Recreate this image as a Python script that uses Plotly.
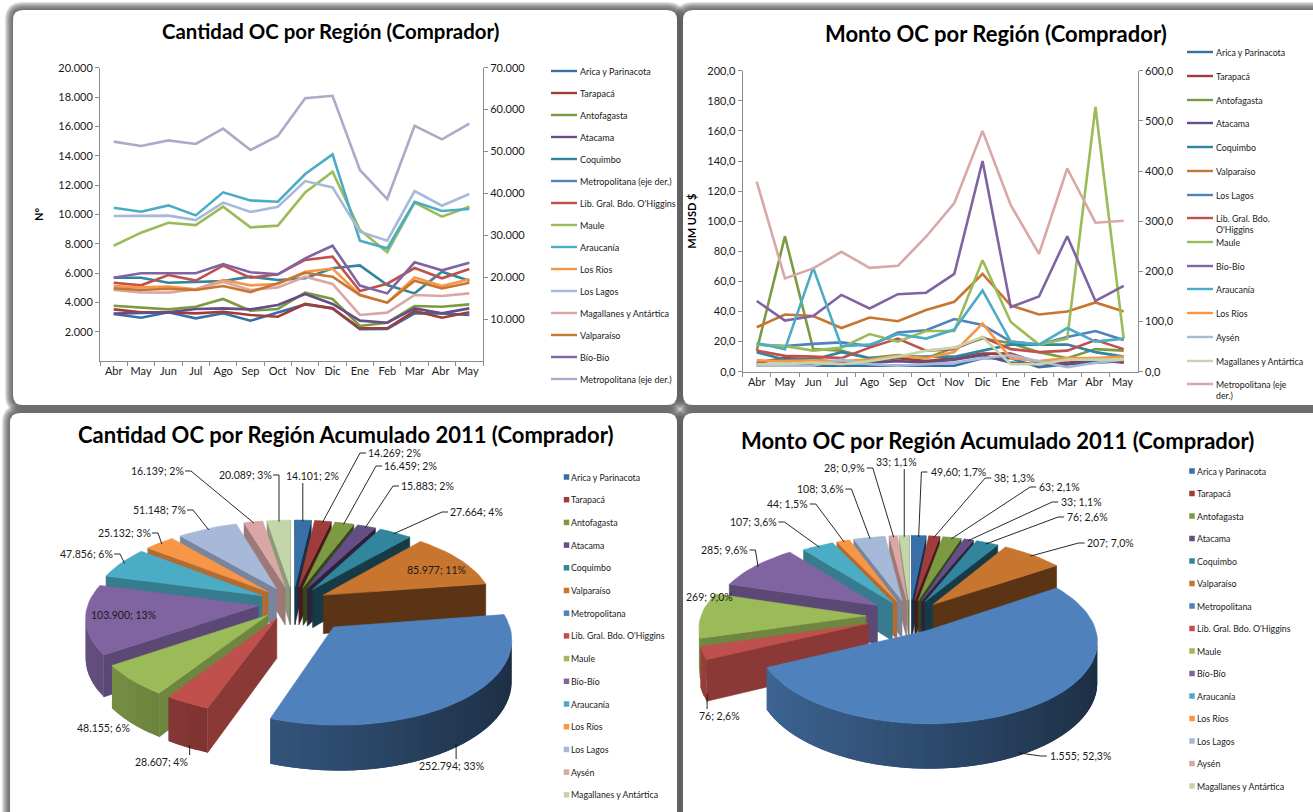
"""
Four-panel dashboard: purchase orders by region (lines on top, exploded 3D pies below).
Plotly has no 3D pie, so the pies are projected by hand from the values.
"""
import math
import plotly.graph_objects as go

W, H = 1313, 812
FONT = 'Lato, "Open Sans", sans-serif'
INK = '#1a1a1a'

# Trailing spaces keep the repeated months distinct on the category axis
months = ['Abr', 'May', 'Jun', 'Jul', 'Ago', 'Sep', 'Oct', 'Nov', 'Dic', 'Ene', 'Feb', 'Mar', 'Abr ', 'May ']

COLORS = {
    'Arica y Parinacota': '#376fa6', 'Tarapacá': '#a03d3a', 'Antofagasta': '#7c9a42', 'Atacama': '#654d85',
    'Coquimbo': '#31859c', 'Valparaíso': '#c8752f', 'Metropolitana': '#4f81bd', "Lib. Gral. Bdo. O'Higgins": '#c0504d',
    'Maule': '#9bbb59', 'Bío-Bío': '#8064a2', 'Araucanía': '#4bacc6', 'Los Ríos': '#f79646',
    'Los Lagos': '#a7b9d9', 'Aysén': '#d9a7a6', 'Magallanes y Antártica': '#c3d6a9',
}
METRO_LINE_L = '#b3a6c9'
METRO_LINE_R = '#d9a7a6'

# --- Cantidad OC (N°), left axis unless noted
q_arica = [3200, 2950, 3320, 2910, 3250, 2750, 3300, 3860, 3590, 2160, 2180, 3250, 3250, 3140]
q_tarapaca = [3520, 3320, 3320, 3250, 3360, 3140, 3020, 3890, 3590, 2230, 2230, 3410, 2950, 3320]
q_antofagasta = [3770, 3660, 3520, 3700, 4230, 3430, 3550, 4660, 4230, 2390, 2610, 3750, 3700, 3860]
q_atacama = [3230, 3250, 3320, 3550, 3590, 3520, 3820, 4570, 3890, 2750, 2610, 3590, 3250, 3590]
q_coquimbo = [5680, 5680, 5340, 5410, 5450, 5750, 5520, 5640, 6320, 6520, 5180, 4610, 6090, 5480]
q_ohiggins = [5340, 5160, 5860, 5480, 6500, 5680, 5910, 6890, 7110, 4770, 5270, 6340, 5640, 6270]
q_maule = [7860, 8750, 9430, 9270, 10520, 9110, 9230, 11500, 12910, 8930, 7410, 10800, 9840, 10520]
q_araucania = [10450, 10180, 10610, 9930, 11500, 10950, 10860, 12750, 14090, 8200, 7680, 10860, 10230, 10360]
q_rios = [5110, 5020, 5070, 4890, 5520, 5160, 5250, 6090, 6300, 4500, 3980, 5700, 5110, 5570]
q_lagos = [9890, 9910, 9910, 9610, 10800, 10160, 10520, 12270, 11840, 8820, 8200, 11590, 10590, 11390]
q_magallanes = [4840, 4680, 4660, 4890, 5390, 4840, 5020, 5750, 5250, 3140, 3300, 4500, 4430, 4610]
q_valparaiso = [4950, 4840, 4930, 4840, 5110, 4700, 5300, 6020, 5750, 4500, 3980, 5480, 4950, 5340]
q_biobio = [5680, 5980, 5980, 5980, 6610, 6050, 5910, 7000, 7860, 5140, 4610, 6730, 6180, 6700]
q_metro = [52350, 51300, 52650, 51800, 55450, 50350, 53700, 62700, 63300, 45600, 38650, 56150, 52900, 56650]

# --- Monto OC (MM USD $), left axis unless noted
m_arica = [4, 4, 4, 4, 4, 4, 4, 4, 9, 9, 3, 5, 6, 7]
m_tarapaca = [6, 9, 8, 6, 7, 9, 7, 9, 12, 12, 6, 6, 8, 6]
m_antofagasta = [14, 90, 15, 14, 9, 11, 9, 16, 22, 19, 13, 9, 15, 14]
m_atacama = [5, 5, 5, 7, 6, 7, 6, 8, 11, 6, 5, 5, 7, 7]
m_coquimbo = [13, 8, 8, 13, 9, 10, 10, 10, 14, 18, 18, 18, 13, 10]
m_valparaiso = [29.5, 38, 37, 29, 36, 33.5, 41, 46.5, 65, 44, 38, 40, 46, 40]
m_lagos = [18, 17, 18.5, 19.5, 17, 26, 27.5, 35, 31, 20, 18, 23, 27, 21]
m_ohiggins = [14, 10.5, 10, 9, 16, 22, 14, 15, 23, 15, 13, 14, 21, 15]
m_maule = [18, 17, 14, 16, 25, 20, 27, 27, 74, 33, 18, 22, 176, 22]
m_biobio = [47, 34, 37, 51, 42, 51.5, 52.5, 65, 140, 43, 50, 90, 47, 57]
m_araucania = [19, 15, 69, 17, 18, 25, 22, 28, 54, 20, 18, 29, 20, 22]
m_rios = [7.5, 7, 7.5, 7, 8, 10.5, 9, 13, 32, 9, 7, 9, 9, 10]
m_aysen = [4, 4, 4, 8, 5, 4, 5, 6, 9, 11, 7, 3, 6, 8]
m_magallanes = [5, 5, 6, 5, 7, 10, 14, 16, 23, 5, 5, 8, 8, 8]
m_metro = [379, 186, 206, 239, 207, 211, 269, 336, 480, 332, 235, 405, 297, 301]

# --- Accumulated 2011 pies
pie_regions = ['Arica y Parinacota', 'Tarapacá', 'Antofagasta', 'Atacama', 'Coquimbo', 'Valparaíso', 'Metropolitana',
               "Lib. Gral. Bdo. O'Higgins", 'Maule', 'Bío-Bío', 'Araucanía', 'Los Ríos', 'Los Lagos', 'Aysén',
               'Magallanes y Antártica']
pie_q_values = [14101, 14269, 16459, 15883, 27664, 85977, 252794, 28607, 48155, 103900, 47856, 25132, 51148, 16139, 20089]
pie_q_labels = ['14.101; 2%', '14.269; 2%', '16.459; 2%', '15.883; 2%', '27.664; 4%', '85.977; 11%', '252.794; 33%',
                '28.607; 4%', '48.155; 6%', '103.900; 13%', '47.856; 6%', '25.132; 3%', '51.148; 7%', '16.139; 2%',
                '20.089; 3%']
pie_m_values = [49.6, 38, 63, 33, 76, 207, 1555, 76, 269, 285, 107, 44, 108, 28, 33]
pie_m_labels = ['49,60; 1,7%', '38; 1,3%', '63; 2,1%', '33; 1,1%', '76; 2,6%', '207; 7,0%', '1.555; 52,3%',
                '76; 2,6%', '269; 9,0%', '285; 9,6%', '107; 3,6%', '44; 1,5%', '108; 3,6%', '28; 0,9%', '33; 1,1%']

# Label centres in page pixels, kept apart from the values
q_label_xy = [(312, 476), (394, 453), (410, 466), (427, 486), (476, 512), (436, 570), (451, 766), (161, 762),
              (103, 728), (123, 615), (86, 554), (124, 533), (159, 510), (157, 471), (245, 475)]
m_label_xy = [(958, 472), (1014, 478), (1059, 487), (1081, 502), (1087, 517), (1110, 543), (1080, 756), (719, 716),
              (709, 597), (724, 550), (753, 522), (787, 504), (820, 489), (844, 468), (896, 462)]
q_no_leader = {'Valparaíso', 'Bío-Bío', 'Maule'}
m_no_leader = {'Maule'}

q_legend = ['Arica y Parinacota', 'Tarapacá', 'Antofagasta', 'Atacama', 'Coquimbo', 'Metropolitana (eje der.)',
            "Lib. Gral. Bdo. O'Higgins", 'Maule', 'Araucanía', 'Los Ríos', 'Los Lagos', 'Magallanes y Antártica',
            'Valparaíso', 'Bío-Bío', 'Metropolitana (eje der.)']
m_legend = ['Arica y Parinacota', 'Tarapacá', 'Antofagasta', 'Atacama', 'Coquimbo', 'Valparaíso', 'Los Lagos',
            "Lib. Gral. Bdo.<br>O'Higgins", 'Maule', 'Bío-Bío', 'Araucanía', 'Los Ríos', 'Aysén',
            'Magallanes y Antártica', 'Metropolitana (eje<br>der.)']
q_colors = [COLORS['Arica y Parinacota'], COLORS['Tarapacá'], COLORS['Antofagasta'], COLORS['Atacama'],
            COLORS['Coquimbo'], COLORS['Metropolitana'], COLORS["Lib. Gral. Bdo. O'Higgins"], COLORS['Maule'],
            COLORS['Araucanía'], COLORS['Los Ríos'], COLORS['Los Lagos'], COLORS['Aysén'],
            COLORS['Valparaíso'], COLORS['Bío-Bío'], METRO_LINE_L]
m_colors = [COLORS['Arica y Parinacota'], COLORS['Tarapacá'], COLORS['Antofagasta'], COLORS['Atacama'],
            COLORS['Coquimbo'], COLORS['Valparaíso'], COLORS['Metropolitana'], COLORS["Lib. Gral. Bdo. O'Higgins"],
            COLORS['Maule'], COLORS['Bío-Bío'], COLORS['Araucanía'], COLORS['Los Ríos'], COLORS['Los Lagos'],
            COLORS['Magallanes y Antártica'], METRO_LINE_R]

q_series = [q_arica, q_tarapaca, q_antofagasta, q_atacama, q_coquimbo, None, q_ohiggins, q_maule, q_araucania,
            q_rios, q_lagos, q_magallanes, q_valparaiso, q_biobio, q_metro]
m_series = [m_arica, m_tarapaca, m_antofagasta, m_atacama, m_coquimbo, m_valparaiso, m_lagos, m_ohiggins, m_maule,
            m_biobio, m_araucania, m_rios, m_aysen, m_magallanes, m_metro]

fig = go.Figure()
shapes, annotations = [], []


def px(x):
    return x / W


def py(y):
    return 1 - y / H


def rounded(x0, y0, x1, y1, r):
    return (f'M {px(x0 + r)} {py(y0)} L {px(x1 - r)} {py(y0)} Q {px(x1)} {py(y0)} {px(x1)} {py(y0 + r)} '
            f'L {px(x1)} {py(y1 - r)} Q {px(x1)} {py(y1)} {px(x1 - r)} {py(y1)} L {px(x0 + r)} {py(y1)} '
            f'Q {px(x0)} {py(y1)} {px(x0)} {py(y1 - r)} L {px(x0)} {py(y0 + r)} Q {px(x0)} {py(y0)} {px(x0 + r)} {py(y0)} Z')


def text(x, y, s, size=9, anchor='left', bold=False):
    annotations.append(dict(x=x, y=y, xref='x3', yref='y5', text=f'<b>{s}</b>' if bold else s, showarrow=False,
                            xanchor=anchor, yanchor='middle', align='left',
                            font=dict(family=FONT, size=size, color=INK if not bold else '#000')))


# Page pixels overlay: pies, legends and labels are placed in this subplot
PANELS = [(13, 10, 677, 405), (683, 10, 1330, 405), (10, 413, 677, 830), (683, 413, 1330, 830)]
for p in PANELS:
    for grow in range(8, 0, -1):
        shapes.append(dict(type='path', path=rounded(p[0] - grow, p[1] - grow, p[2] + grow, p[3] + grow, 10 + grow),
                           xref='paper', yref='paper', fillcolor='rgba(80,80,80,0.17)', line_width=0, layer='below'))
for p in PANELS:
    shapes.append(dict(type='path', path=rounded(*p, 10), xref='paper', yref='paper', fillcolor='white',
                       line_width=0, layer='below'))


def line_traces(series, names, colors, xa, ya_left, ya_right):
    for vals, name, color in zip(series, names, colors):
        if vals is None:  # in the source legend but never drawn
            continue
        right = 'eje' in name
        fig.add_trace(go.Scatter(x=months, y=vals, mode='lines', name=name.replace('<br>', ' '), xaxis=xa,
                                 yaxis=ya_right if right else ya_left, line=dict(color=color, width=2.6),
                                 showlegend=False))


line_traces(q_series, q_legend, q_colors, 'x', 'y', 'y2')
line_traces(m_series, m_legend, m_colors, 'x2', 'y3', 'y4')


def shade(color, f):
    r, g, b = int(color[1:3], 16), int(color[3:5], 16), int(color[5:7], 16)
    return f'rgb({int(r * f)},{int(g * f)},{int(b * f)})'


def poly(points, color, stroke=0.6):
    fig.add_trace(go.Scatter(x=[p[0] for p in points] + [points[0][0]], y=[p[1] for p in points] + [points[0][1]],
                             mode='lines', fill='toself', fillcolor=color, line=dict(color=color, width=stroke),
                             xaxis='x3', yaxis='y5', hoverinfo='skip', showlegend=False))


def area(points):
    return sum(points[i][0] * points[(i + 1) % len(points)][1] - points[(i + 1) % len(points)][0] * points[i][1]
               for i in range(len(points))) / 2


def draw_pie(values, labels, label_xy, no_leader, cx, cy, R, k, persp, depth, explode, explode_by):
    total = sum(values)

    def project(X, Y, Z):
        s = 1 + persp * Y / R
        return cx + X * s, cy + (Y * k - Z) * s

    slices = []
    start = 0
    for region, v, lab, xy in zip(pie_regions, values, labels, label_xy):
        end = start + 360 * v / total
        slices.append(dict(region=region, a=start, b=end, mid=(start + end) / 2, label=lab, xy=xy))
        start = end

    leaders = []
    for sl in sorted(slices, key=lambda d: -math.cos(math.radians(d['mid']))):
        E = explode_by.get(sl['region'], explode)
        mid = math.radians(sl['mid'])
        ox, oy = E * math.sin(mid), -E * math.cos(mid)
        n = max(3, int((sl['b'] - sl['a']) / 3))
        arc = []
        for i in range(n + 1):
            t = math.radians(sl['a'] + (sl['b'] - sl['a']) * i / n)
            arc.append((ox + R * math.sin(t), oy - R * math.cos(t), math.degrees(t)))
        color = COLORS[sl['region']]

        def quad(p, q):
            return [project(p[0], p[1], 0), project(q[0], q[1], 0), project(q[0], q[1], -depth),
                    project(p[0], p[1], -depth)]

        tip = (ox, oy)
        for p, q, f in ((tip, arc[0], 0.72), (arc[-1], tip, 0.45)):
            wall = quad(p, q)
            if area(wall) < 0:
                poly(wall, shade(color, f))
        # each wall strip reaches over the next so no seam shows between them
        for i in range(n):
            wall = quad(arc[i], arc[i + 1])
            if area(wall) < 0:
                th = math.radians((arc[i][2] + arc[i + 1][2]) / 2)
                poly(quad(arc[i], arc[min(i + 2, n)]), shade(color, 0.58 - 0.22 * math.sin(th)), stroke=0)
        poly([project(*tip, 0)] + [project(a[0], a[1], 0) for a in arc], color)

        lx, ly = sl['xy']
        text(lx, ly, sl['label'], size=10.5, anchor='center')
        if sl['region'] not in no_leader:
            front = math.cos(mid) < -0.3
            ax, ay = project(ox + (R - 4) * math.sin(mid), oy - (R - 4) * math.cos(mid), -depth if front else 0)
            half = len(sl['label']) * 2.6 + 2
            if abs(lx - ax) < half + (15 if front else 0):
                leaders.append([(ax, ay), (ax, ly - 7 if ly > ay else ly + 7)])
            elif lx > ax:
                leaders.append([(ax, ay), (lx - half - 6, ly), (lx - half, ly)])
            else:
                leaders.append([(ax, ay), (lx + half + 6, ly), (lx + half, ly)])
    for seg in leaders:
        fig.add_trace(go.Scatter(x=[p[0] for p in seg], y=[p[1] for p in seg], mode='lines', xaxis='x3', yaxis='y5',
                                 line=dict(color='#111', width=0.9), hoverinfo='skip', showlegend=False))


draw_pie(pie_q_values, pie_q_labels, q_label_xy, q_no_leader, 293, 603, 170, 0.48, 0.13, 39, 35,
         {'Metropolitana': 62})
draw_pie(pie_m_values, pie_m_labels, m_label_xy, m_no_leader, 910, 616, 165, 0.48, 0.13, 39, 34,
         {'Metropolitana': 34, 'Maule': 44, "Lib. Gral. Bdo. O'Higgins": 44, 'Bío-Bío': 40})


def line_legend(names, colors, ys, x0, x1, xt, size):
    for name, color, y in zip(names, colors, ys):
        fig.add_trace(go.Scatter(x=[x0, x1], y=[y, y], mode='lines', xaxis='x3', yaxis='y5',
                                 line=dict(color=color, width=2.4), hoverinfo='skip', showlegend=False))
        text(xt, y + 6 if '<br>' in name else y, name, size=size)


def square_legend(names, ys, x0, xt):
    for name, y in zip(names, ys):
        fig.add_trace(go.Scatter(x=[x0], y=[y], mode='markers', xaxis='x3', yaxis='y5', hoverinfo='skip',
                                 marker=dict(symbol='square', size=5.5, color=COLORS[name]), showlegend=False))
        text(xt, y, name, size=8.8)


line_legend(q_legend, q_colors, [71 + 22 * i for i in range(15)], 551, 577, 578, 9)
line_legend(m_legend, m_colors, [52, 76, 100, 123, 147, 171, 195, 218, 242, 266, 289, 313, 337, 361, 384],
            1187, 1213, 1214, 8.8)
square_legend(pie_regions, [477 + 22.7 * i for i in range(15)], 566.5, 569)
square_legend(pie_regions, [471 + 22.5 * i for i in range(15)], 1192, 1195)

text(330, 31, 'Cantidad OC por Región (Comprador)', size=20.4, anchor='center', bold=True)
text(996, 33, 'Monto OC por Región (Comprador)', size=22, anchor='center', bold=True)
text(345, 434, 'Cantidad OC por Región Acumulado 2011 (Comprador)', size=22, anchor='center', bold=True)
text(997, 440, 'Monto OC por Región Acumulado 2011 (Comprador)', size=22, anchor='center', bold=True)

AXIS = dict(showgrid=False, zeroline=False, showline=True, linecolor='#8c8c8c', linewidth=1, ticks='outside',
            ticklen=4, tickcolor='#8c8c8c', tickfont=dict(family=FONT, size=11, color=INK))
XAXIS = dict(AXIS, type='category', categoryorder='array', categoryarray=months, tickson='boundaries',
             range=[-0.5, 13.5], tickangle=0)

fig.update_layout(
    width=W, height=H, margin=dict(l=0, r=0, t=0, b=0, autoexpand=False), autosize=False, showlegend=False,
    paper_bgcolor='white', plot_bgcolor='rgba(0,0,0,0)', separators=',.', font=dict(family=FONT),
    shapes=shapes, annotations=annotations,
    xaxis=dict(XAXIS, domain=[px(100), px(483)], anchor='y'),
    yaxis=dict(AXIS, domain=[py(361), py(67.7)], range=[0, 20000], anchor='x',
               tickvals=list(range(2000, 20001, 2000)), tickformat=',d',
               title=dict(text='<b>N°</b>', font=dict(family=FONT, size=11, color='#000'), standoff=12)),
    yaxis2=dict(AXIS, overlaying='y', side='right', anchor='x', range=[0, 70000],
                tickvals=list(range(10000, 70001, 10000)), tickformat=',d'),
    xaxis2=dict(XAXIS, domain=[px(742.6), px(1137.8)], anchor='y3'),
    yaxis3=dict(AXIS, domain=[py(371.7), py(70.7)], range=[0, 200], anchor='x2', dtick=20, tickformat='.1f',
                title=dict(text='<b>MM USD $</b>', font=dict(family=FONT, size=11, color='#000'), standoff=8)),
    yaxis4=dict(AXIS, overlaying='y3', side='right', anchor='x2', range=[0, 600], dtick=100, tickformat='.1f'),
    xaxis3=dict(domain=[0, 1], range=[0, W], visible=False, fixedrange=True, anchor='y5'),
    yaxis5=dict(domain=[0, 1], range=[H, 0], visible=False, fixedrange=True, anchor='x3'),
)

# The page's default body margin would push the 1313x812 figure off the window
fig.write_html("out.html", post_script="document.body.style.margin = '0';", config={'displayModeBar': False})
